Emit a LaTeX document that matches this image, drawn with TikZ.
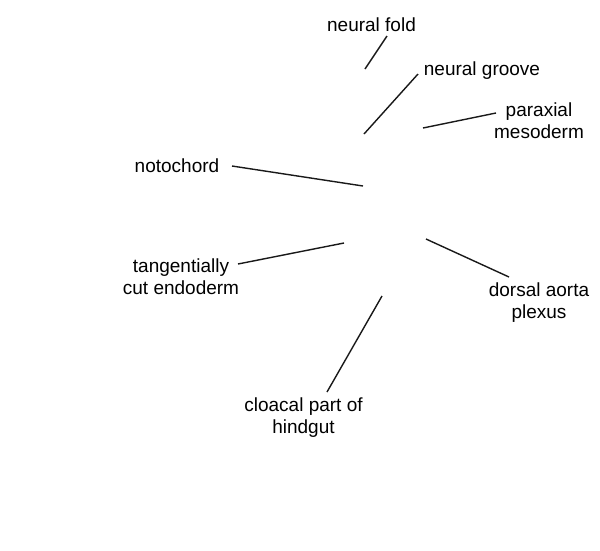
\documentclass[tikz,border=0pt]{standalone}
\usepackage{fontspec}
\setmainfont{Liberation Sans}
\begin{document}
\begin{tikzpicture}[x=1pt,y=-1pt,lbl/.style={anchor=north,inner sep=0pt,align=center,
					font=\fontsize{19}{21.5}\selectfont,text=black},ln/.style={draw,line width=1.4pt,black!90}]
		\useasboundingbox (0,0) rectangle (600,550);
		\node[lbl] (fold) at (371.5,18) {neural fold};
		\node[lbl] (groove) at (482,62) {neural groove};
		\node[lbl] (para) at (539,103) {paraxial\\mesoderm};
		\node[lbl] (noto) at (177,159) {notochord};
		\node[lbl] (endo) at (181,259) {tangentially\\cut endoderm};
		\node[lbl] (aorta) at (539,283) {dorsal aorta\\plexus};
		\node[lbl] (cloaca) at (303.5,398) {cloacal part of\\hindgut};
		% leader ends
		\coordinate (fold-a) at (387,36);   \coordinate (fold-b) at (365,69);
		\coordinate (groove-a) at (418,74); \coordinate (groove-b) at (364,134);
		\coordinate (para-a) at (496,113);  \coordinate (para-b) at (423,128);
		\coordinate (noto-a) at (232,166);  \coordinate (noto-b) at (363,186);
		\coordinate (endo-a) at (238,264);  \coordinate (endo-b) at (344,243);
		\coordinate (aorta-a) at (509,277); \coordinate (aorta-b) at (426,239);
		\coordinate (cloaca-a) at (327,392); \coordinate (cloaca-b) at (382,296);
		\foreach \n in {fold,groove,para,noto,endo,aorta,cloaca}
			\path[ln] (\n-a) -- (\n-b);
	\end{tikzpicture}
\end{document}
